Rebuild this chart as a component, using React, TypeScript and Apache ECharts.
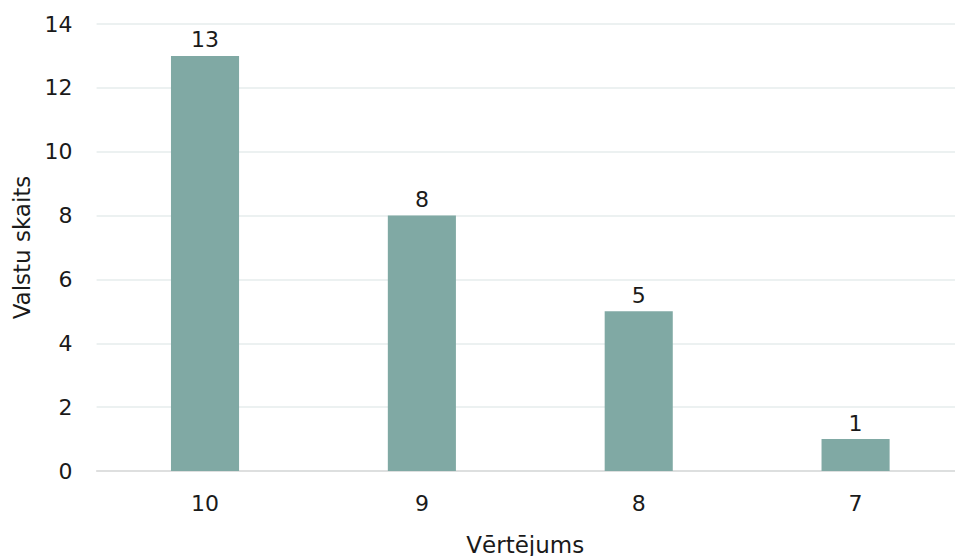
import React, { useEffect, useRef } from "react";
import * as echarts from "echarts";

const categories = ["10", "9", "8", "7"];
const values = [13, 8, 5, 1];
const yTicks = [0, 2, 4, 6, 8, 10, 12, 14];
const xTitle = "Vērtējums";
const yTitle = "Valstu skaits";

export default function App() {
  const ref = useRef<HTMLDivElement>(null);
  useEffect(() => {
    document.body.style.margin = "0";
    document.body.style.overflow = "hidden";
    if (!ref.current) return;
    const chart = echarts.init(ref.current, null, { renderer: "svg" });
    const font = "'DejaVu Sans', Verdana, sans-serif";
    chart.setOption({
      animation: false,
      backgroundColor: "#ffffff",
      textStyle: { fontFamily: font },
      grid: {
        left: 96.6,
        right: -9,
        top: 24,
        bottom: 85,
        containLabel: false,
        outerBoundsMode: "none",
      },
      xAxis: {
        type: "category",
        data: categories,
        name: xTitle,
        nameLocation: "middle",
        nameGap: 62,
        nameTextStyle: { fontSize: 23, color: "#1a1a1a", fontFamily: font, padding: [0, 10, 0, 0] },
        axisLine: { show: true, lineStyle: { color: "#d9d9d9", width: 1.5 } },
        axisTick: { show: false },
        axisLabel: { fontSize: 22, color: "#1a1a1a", margin: 21, fontFamily: font },
      },
      yAxis: {
        type: "value",
        min: yTicks[0],
        max: yTicks[yTicks.length - 1],
        interval: 2,
        name: yTitle,
        nameLocation: "middle",
        nameGap: 59,
        nameTextStyle: { fontSize: 23, color: "#1a1a1a", fontFamily: font },
        axisLine: { show: false },
        axisTick: { show: false },
        axisLabel: { fontSize: 22, color: "#1a1a1a", margin: 24, fontFamily: font },
        splitLine: { lineStyle: { color: "#e6ecec", width: 1.5 } },
      },
      series: [
        {
          type: "bar",
          data: values,
          barWidth: "31.4%",
          itemStyle: { color: "#80a9a4" },
          label: {
            show: true,
            position: "top",
            distance: 5,
            fontSize: 22,
            color: "#1a1a1a",
            fontFamily: font,
          },
        },
      ],
    });
    return () => chart.dispose();
  }, []);
  return <div ref={ref} style={{ position: "absolute", left: 0, top: 0, width: 955, height: 556 }} />;
}
